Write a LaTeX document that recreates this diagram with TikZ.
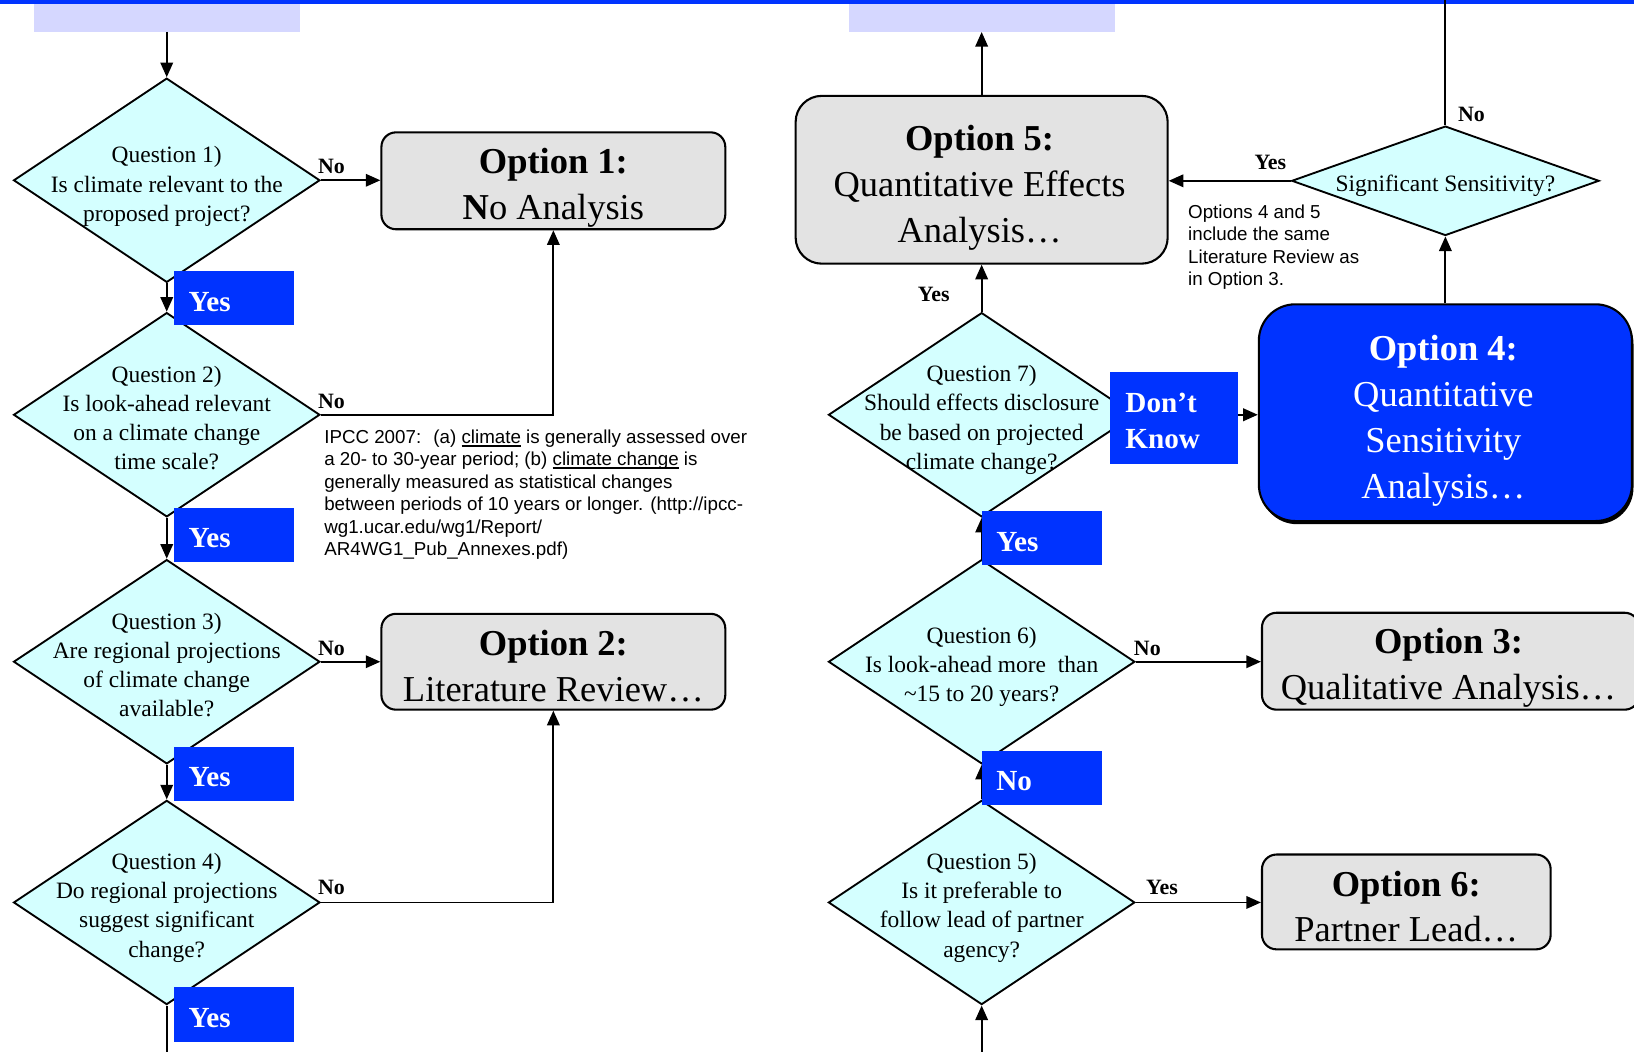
\documentclass[tikz,border=0pt]{standalone}
\usepackage{fontspec}
\setmainfont{Liberation Serif}
\newfontfamily\arialf{Liberation Sans}
\usetikzlibrary{shapes.geometric,arrows.meta,shadows}
\definecolor{topblue}{RGB}{0,51,255}
\definecolor{diacyan}{RGB}{212,255,255}
\definecolor{optgray}{RGB}{227,227,227}
\definecolor{lavender}{RGB}{213,215,255}
\newcommand\thul[1]{\setbox0\hbox{#1}\rlap{\rule[-3.5pt]{\wd0}{2.2pt}}\box0\relax}
\tikzset{
  conn/.style={line width=1.8pt},
  arr/.style={conn,-{Triangle[length=14pt,width=12pt]}},
  dia/.style={diamond,draw,line width=1.8pt,fill=diacyan,minimum width=294pt,minimum height=196pt,inner sep=0pt},
  qtext/.style={align=center,inner sep=0pt,font=\fontsize{22.5}{28}\selectfont},
  optbox/.style={draw,line width=2pt,fill=optgray,rounded corners=14pt,inner sep=0pt},
  opttext/.style={align=center,inner sep=0pt,font=\fontsize{35}{44}\selectfont},
  bluetag/.style={fill=topblue,minimum width=115pt,minimum height=52pt,inner sep=0pt},
  tagtext/.style={text=white,font=\bfseries\fontsize{28}{35}\selectfont,align=left,inner sep=0pt,text width=87pt},
  lab/.style={font=\bfseries\fontsize{21}{24}\selectfont,inner sep=0pt},
  note/.style={font=\arialf\fontsize{18}{21.6}\selectfont,align=left,inner sep=0pt,anchor=north west},
  lav/.style={fill=lavender,minimum width=255pt,minimum height=27pt,inner sep=0pt},
}
\begin{document}
\begin{tikzpicture}[x=1pt,y=-1pt]
\useasboundingbox (0,0) rectangle (1568,1009);
\fill[white] (0,0) rectangle (1568,1009);
\fill[topblue] (0,0) rectangle (1568,4);
\node[lav] (lav1) at (160,17) {};
\node[lav] (lav2) at (942,17) {};

% left column diamonds
\node[dia] (q1) at (160,173) {};
\node[qtext] (q1t) at (160,179) {Question 1)\\Is climate relevant to the\\proposed project?};
\node[dia] (q2) at (160,398) {};
\node[qtext] (q2t) at (160,401) {Question 2)\\Is look-ahead relevant\\on a climate change\\time scale?};
\node[dia] (q3) at (160,635) {};
\node[qtext] (q3t) at (160,638) {Question 3)\\Are regional projections\\of climate change\\available?};
\node[dia] (q4) at (160,866) {};
\node[qtext] (q4t) at (160,871) {Question 4)\\Do regional projections\\suggest significant\\change?};

% right column diamonds
\node[dia] (q7) at (942,398) {};
\node[qtext] (q7t) at (942,403) {Question 7)\\Should effects disclosure\\be based on projected\\climate change?};
\node[dia] (q6) at (942,635) {};
\node[qtext] (q6t) at (942,640) {Question 6)\\Is look-ahead more~ than\\\textasciitilde15 to 20 years?};
\node[dia] (q5) at (942,866) {};
\node[qtext] (q5t) at (942,871) {Question 5)\\Is it preferable to\\follow lead of partner\\agency?};
\node[dia,minimum width=295pt,minimum height=105pt] (sig) at (1387,173.5) {};
\node[qtext] (sigt) at (1387,178) {Significant Sensitivity?};

% option boxes
\node[optbox,minimum width=330pt,minimum height=93pt] (opt1) at (531,173.5) {};
\node[opttext] (opt1t) at (531,180.5) {\textbf{Option 1:}\\\textbf{N}o Analysis};
\node[optbox,minimum width=330pt,minimum height=92pt] (opt2) at (531,635) {};
\node[opttext] (opt2t) at (531,639) {\textbf{Option 2:}\\Literature Review…};
\node[optbox,rounded corners=25pt,minimum width=357pt,minimum height=161pt] (opt5) at (942,172.5) {};
\node[opttext] (opt5t) at (940,180) {\textbf{Option 5:}\\Quantitative Effects\\Analysis…};
\node[optbox,rounded corners=35pt,fill=topblue,minimum width=358pt,minimum height=208pt,drop shadow={shadow xshift=1.5pt,shadow yshift=-3pt,opacity=1,fill=black}] (opt4) at (1387,396) {};
\node[opttext,text=white] (opt4t) at (1385,404) {\textbf{Option 4:}\\Quantitative\\Sensitivity\\Analysis…};
\node[optbox,minimum width=362pt,minimum height=93pt] (opt3) at (1392,634.5) {};
\node[opttext] (opt3t) at (1390,640.5) {\textbf{Option 3:}\\Qualitative Analysis…};
\node[optbox,minimum width=277pt,minimum height=91pt] (opt6) at (1349.5,865.5) {};
\node[opttext] (opt6t) at (1349.5,870) {\textbf{Option 6:}\\Partner Lead…};

% connectors
\coordinate (bl) at (160,1012);
\coordinate (br) at (942,1012);
\coordinate (tr) at (1387,-2);
\draw[arr] (lav1.south) -- (q1.north);
\draw[arr] (q1.south) -- (q2.north);
\draw[arr] (q2.south) -- (q3.north);
\draw[arr] (q3.south) -- (q4.north);
\draw[conn] (q4.south) -- (bl);
\draw[arr] (q1.east) -- (q1.east -| opt1.west);
\draw[arr] (q2.east) -| (opt1.south);
\draw[arr] (q3.east) -- (q3.east -| opt2.west);
\draw[arr] (q4.east) -| (opt2.south);

\draw[arr] (opt5.north) -- (lav2.south);
\draw[arr] (q7.north) -- (opt5.south);
\draw[arr] (q7.east) -- (q7.east -| opt4.west);
\draw[arr] (q6.north) -- (q7.south);
\draw[arr] (q5.north) -- (q6.south);
\draw[arr] (br) -- (q5.south);
\draw[arr] (q6.east) -- (q6.east -| opt3.west);
\draw[arr] (q5.east) -- (q5.east -| opt6.west);
\draw[arr] (opt4.north) -- (sig.south);
\draw[arr] (sig.west) -- (sig.west -| opt5.east);
\draw[conn] (sig.north) -- (tr);

% blue tags
\node[bluetag] (y1) at (224.5,286) {};
\node[tagtext] (y1t) at (224.5,289.5) {Yes};
\node[bluetag] (y2) at (224.5,513) {};
\node[tagtext] (y2t) at (224.5,516.5) {Yes};
\node[bluetag] (y3) at (224.5,742.5) {};
\node[tagtext] (y3t) at (224.5,746) {Yes};
\node[bluetag] (y4) at (224.5,973.5) {};
\node[tagtext] (y4t) at (224.5,977) {Yes};
\node[bluetag] (y7) at (999.5,516.5) {};
\node[tagtext] (y7t) at (999.5,520) {Yes};
\node[bluetag] (n6) at (999.5,746.5) {};
\node[tagtext] (n6t) at (999.5,750) {No};
\node[bluetag,minimum width=123pt,minimum height=88pt] (dk) at (1126.5,401) {};
\node[tagtext,text width=93pt] (dkt) at (1126.5,404) {Don’t\\Know};

% small labels
\node[lab] (l1) at (318,160) {No};
\node[lab] (l2) at (318,385) {No};
\node[lab] (l3) at (318,622) {No};
\node[lab] (l4) at (318,852) {No};
\node[lab] (l5) at (896,283) {Yes};
\node[lab] (l6) at (1219,156) {Yes};
\node[lab] (l7) at (1412,110) {No};
\node[lab] (l8) at (1101,622) {No};
\node[lab] (l9) at (1115,852) {Yes};

% notes
\node[note] (ipcc) at (311,412) {IPCC 2007:~ (a) \thul{climate} is generally assessed over\\a 20- to 30-year period; (b) \thul{climate change} is\\generally measured as statistical changes\\between periods of 10 years or longer. (http://ipcc-\\wg1.ucar.edu/wg1/Report/\\AR4WG1\_Pub\_Annexes.pdf)};
\node[note] (opnote) at (1140,196) {Options 4 and 5\\include the same\\Literature Review as\\in Option 3.};
\end{tikzpicture}
\end{document}
